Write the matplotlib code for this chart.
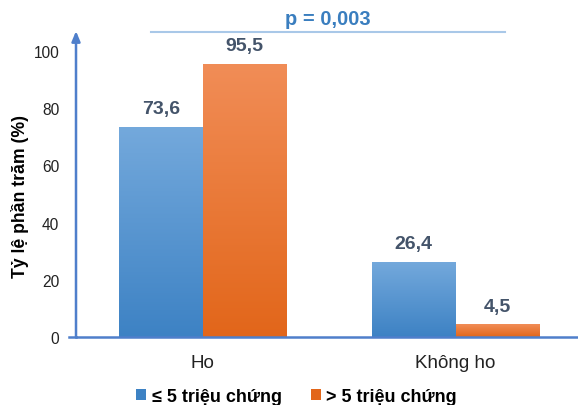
import numpy as np
import matplotlib as mpl
from matplotlib import pyplot as plt
from matplotlib.colors import LinearSegmentedColormap
from matplotlib.patches import Patch

mpl.rcParams['font.family'] = ['Liberation Sans', 'DejaVu Sans']

# data
categories = ['Ho', 'Không ho']
series_labels = ['≤ 5 triệu chứng', '> 5 triệu chứng']
low_sym = [73.6, 26.4]
high_sym = [95.5, 4.5]
p_text = 'p = 0,003'

# colours: (top, bottom) of each gradient
c_blue = ('#74a9dc', '#3d82c4')
c_orange = ('#f18d57', '#e2661a')
c_axis = '#4f7fcb'
c_label = '#44546a'

width = 0.332

fig = plt.figure(figsize=(5.78, 4.06), dpi=100)
ax = fig.add_axes([0.1315, 0.1675, 0.8685, 0.7535])
x = np.arange(len(categories))


def gradient_bars(xpos, vals, colors):
    cmap = LinearSegmentedColormap.from_list('g', [colors[1], colors[0]])
    bars = ax.bar(xpos, vals, width, color='none', edgecolor='none')
    grad = np.linspace(0, 1, 256).reshape(-1, 1)
    for b in bars:
        x0, y0 = b.get_x(), b.get_y()
        w, h = b.get_width(), b.get_height()
        im = ax.imshow(grad, cmap=cmap, origin='lower', aspect='auto',
                       extent=[x0, x0 + w, y0, y0 + h], zorder=2)
        im.set_clip_path(b)
    return bars


gradient_bars(x - width / 2, low_sym, c_blue)
gradient_bars(x + width / 2, high_sym, c_orange)

# value labels above each bar
for xi, v in list(zip(x - width / 2, low_sym)) + list(zip(x + width / 2, high_sym)):
    ax.text(xi, v + 6.3, f'{v:.1f}'.replace('.', ','), ha='center', va='center',
            fontsize=14, fontweight='bold', color=c_label)

ax.set_xlim(-0.502, 1.484)
ax.set_ylim(0, 107)
ax.set_yticks([0, 20, 40, 60, 80, 100])
ax.tick_params(axis='y', length=0, labelsize=11.2, pad=12, labelcolor='#222222')
ax.tick_params(axis='x', length=0, labelsize=13.5, pad=12, labelcolor='#222222')
ax.set_xticks(x)
ax.set_xticklabels(categories)
ax.set_ylabel('Tỷ lệ phần trăm (%)', fontsize=12.7, fontweight='bold')
ax.yaxis.set_label_coords(-0.094, 0.464)

for s in ['top', 'right', 'left']:
    ax.spines[s].set_visible(False)
ax.spines['bottom'].set_color(c_axis)
ax.spines['bottom'].set_linewidth(1.8)

# y axis drawn as an arrow
ax.annotate('', xy=(0, 1.0), xytext=(0, 0), xycoords='axes fraction',
            arrowprops=dict(arrowstyle='-|>,head_length=0.6,head_width=0.25',
                            color=c_axis, lw=1.8, shrinkA=0, shrinkB=0))
ax.plot([-0.53, -0.502], [0, 0], color=c_axis, lw=1.8, clip_on=False)

# significance bracket
ax.plot([-0.206, 1.194], [106.6, 106.6], color='#a9c8e8', lw=1.5, clip_on=False)
ax.text(0.494, 111.5, p_text, ha='center', va='center', fontsize=14.5,
        fontweight='bold', color='#3a7ebf')

handles = [Patch(facecolor=c_blue[1]), Patch(facecolor=c_orange[1])]
fig.legend(handles, series_labels, loc='center', bbox_to_anchor=(0.513, 0.022),
           ncol=2, frameon=False, handlelength=0.55, handleheight=0.55,
           handletextpad=0.3, columnspacing=1.6, prop={'weight': 'bold', 'size': 13})

fig.savefig('out.png', dpi=100)
